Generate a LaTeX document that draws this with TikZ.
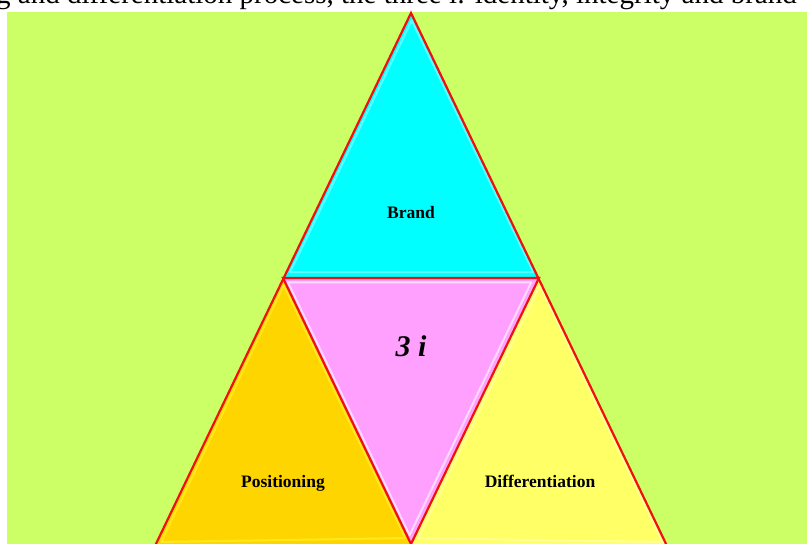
\documentclass[tikz,border=0pt]{standalone}
\usepackage{fontspec}
\setmainfont{Liberation Serif}
\usetikzlibrary{calc}
\definecolor{lawn}{HTML}{CCFF66}
\definecolor{brandcyan}{HTML}{00FFFF}
\definecolor{threeipink}{HTML}{FFA0FF}
\definecolor{posgold}{HTML}{FFD500}
\definecolor{diffyellow}{HTML}{FFFF66}
\definecolor{edgered}{HTML}{F01010}
\tikzset{
  edge/.style={edgered, line width=2.2pt, line join=miter},
  gloss/.style={line width=2pt, opacity=0.6, line join=round},
  label/.style={font=\fontsize{17.5}{20}\selectfont\bfseries, inner sep=0, anchor=base}
}
\newcommand{\glosstri}[5]{%
  \coordinate (g) at ($(#1)!1/3!(#2)!1/3!(#3)$);
  \fill[#4] (#1) -- (#2) -- (#3) -- cycle;
  \draw[gloss, #5] ($(#1)!0.05!(g)$) -- ($(#2)!0.05!(g)$) -- ($(#3)!0.05!(g)$) -- cycle;
}
\begin{document}
\begin{tikzpicture}[x=1pt,y=-1pt]
\useasboundingbox (0,0) rectangle (807,544);
\clip (0,0) rectangle (807,544);
\fill[white] (0,0) rectangle (807,544);
\fill[lawn] (7,12) rectangle (807,544);
\node[anchor=base west, inner sep=0, font=\fontsize{29}{32}\selectfont] (caption) at (-4,3.5)
  {g and differentiation process, the three i: identity, integrity and brand};
% corners
\coordinate (top) at (411,13);
\coordinate (midl) at (283,278);
\coordinate (midr) at (539,278);
\coordinate (botl) at (154,548);
\coordinate (botm) at (411,544);
\coordinate (botr) at (668,548);
\glosstri{top}{midl}{midr}{brandcyan}{white!60!brandcyan}
\glosstri{midl}{midr}{botm}{threeipink}{white}
\glosstri{midl}{botl}{botm}{posgold}{yellow!80!white}
\glosstri{midr}{botm}{botr}{diffyellow}{white!50!diffyellow}
\draw[edge] (botl) -- (top) -- (botr);
\draw[edge] (midl) -- (midr) -- (botm) -- cycle;
\node[label] (brand) at (411,218) {Brand};
\node[inner sep=0, anchor=base, font=\fontsize{30}{34}\selectfont\bfseries\itshape] (threei) at (411,356) {3 i};
\node[label] (pos) at (283,487) {Positioning};
\node[label] (diff) at (540,487) {Differentiation};
\end{tikzpicture}
\end{document}
